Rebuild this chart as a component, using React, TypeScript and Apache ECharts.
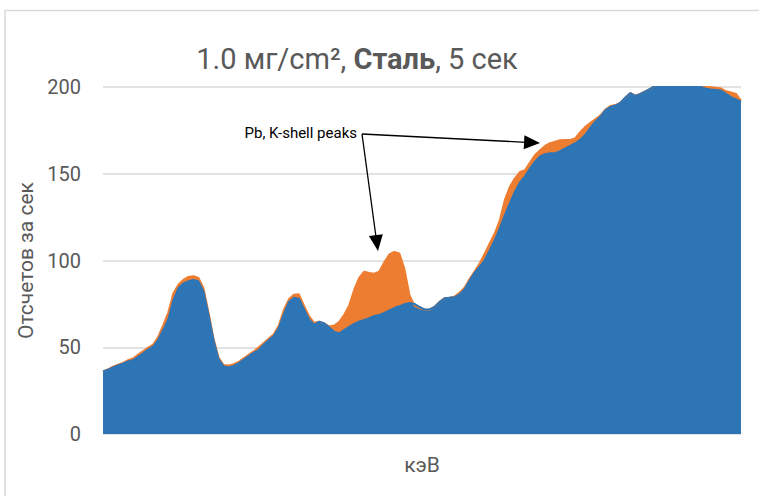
import React, { useEffect, useRef } from "react";
import * as echarts from "echarts";

// Spectrum samples (evenly spaced channels across the energy range), counts per second
const blueValues = [
  36, 37, 38.4, 39.5, 40.5, 41.8, 42.6, 44.5, 46.5, 48.6, 50.3, 54.2, 59.9, 66, 77, 84, 86.8, 88, 88.8, 88,
  82, 68.6, 54, 43, 39, 38.4, 39.2, 40.7, 42.8, 44.8, 46.8, 48.4, 51.5, 54, 56.5, 61, 69, 76, 78.5, 78,
  72, 66, 63, 64.7, 63.8, 61.5, 59, 58, 59.9, 61.8, 63.5, 64.8, 65.7, 66.7, 68, 68.6, 69.8, 71.2, 72.6, 73.6,
  74.8, 75.5, 75, 73.2, 71.8, 71.8, 73.2, 76, 78.2, 78.6, 78.8, 80.5, 83.5, 88.5, 93, 96.4, 100.3, 106, 111.8, 118.6,
  126.2, 133, 139.7, 145, 148.5, 153, 157, 160, 161.3, 161.8, 161.8, 163, 164.6, 166, 167.6, 169.5, 172.5, 176.5, 180, 182.8,
  186.5, 188.5, 189.3, 190.8, 194, 196.5, 194.8, 196, 197.5, 199, 201, 202, 202, 203, 202, 203, 203, 203, 202, 200,
  199, 198.6, 198.3, 198, 196, 194.2, 192.9, 191.5,
];

const orangeValues = [
  36, 37.3, 38.8, 40, 41, 42.5, 43.5, 45.8, 47.8, 49.8, 51.5, 56, 62.8, 70, 81, 86, 88.8, 90.5, 91, 90,
  84, 70, 55, 44, 39.8, 39.5, 40.2, 41.5, 43.6, 45.6, 47.6, 50, 52.5, 55, 57.5, 62.5, 71.5, 77.6, 80.2, 80.5,
  74, 68, 64, 64.7, 63.8, 62, 62.5, 64.5, 68.6, 74, 83, 90, 93.6, 92.8, 92.4, 93.5, 99, 103.5, 105, 104,
  95, 80, 74, 72.5, 71.8, 71.6, 73.2, 76.2, 78.2, 78.6, 79.2, 81.5, 84.5, 89.5, 93.8, 98.4, 104, 110, 115.7, 123.3,
  134.9, 142.5, 147.4, 151, 152, 156.5, 160.8, 163.5, 166, 167.6, 168.5, 169.3, 169.5, 169.5, 170.4, 174, 177, 179.3, 181.4, 183.5,
  187, 189, 189.6, 191, 194, 196.5, 195, 196.2, 197.6, 199, 201, 202, 202, 203, 205, 204, 203, 203, 202, 200.2,
  200, 199.8, 199.6, 199.2, 197.5, 196.8, 196, 192,
];

const channels = blueValues.map((_, i) => String(i + 1));
const yTicks = [0, 50, 100, 150, 200];

const titleText = "1.0 мг/cm², ";
const titleBold = "Сталь";
const titleTail = ", 5 сек";
const yName = "Отсчетов за сек";
const xName = "кэВ";
const noteText = "Pb, K-shell peaks";

const FONT = "Roboto, 'Noto Sans', sans-serif";

export default function App() {
  const ref = useRef<HTMLDivElement>(null);

  useEffect(() => {
    if (!ref.current) return;
    const chart = echarts.init(ref.current, undefined, { renderer: "svg" });
    chart.setOption({
      animation: false,
      backgroundColor: "#ffffff",
      title: {
        text: `{n|${titleText}}{b|${titleBold}}{n|${titleTail}}`,
        left: 352,
        textAlign: "center",
        top: 39,
        textStyle: {
          fontWeight: "normal",
          rich: {
            n: { fontFamily: FONT, fontSize: 29, color: "#595959", fontWeight: "normal" },
            b: { fontFamily: FONT, fontSize: 29, color: "#595959", fontWeight: "bold" },
          },
        },
      },
      grid: { left: 103, right: 18, top: 87, bottom: 62 },
      xAxis: {
        type: "category",
        data: channels,
        boundaryGap: false,
        axisLine: { show: false },
        axisTick: { show: false },
        axisLabel: { show: false },
        splitLine: { show: false },
        name: xName,
        nameLocation: "middle",
        nameGap: 20,
        nameTextStyle: { fontFamily: FONT, fontSize: 21, color: "#595959" },
      },
      yAxis: {
        type: "value",
        min: yTicks[0],
        max: yTicks[yTicks.length - 1],
        interval: 50,
        axisLine: { show: false },
        axisTick: { show: false },
        axisLabel: { fontFamily: FONT, fontSize: 20, color: "#595959", margin: 22 },
        splitLine: { lineStyle: { color: "#d9d9d9", width: 1.5 } },
        name: yName,
        nameLocation: "middle",
        nameRotate: 90,
        nameGap: 58,
        nameTextStyle: { fontFamily: FONT, fontSize: 21, color: "#595959" },
      },
      series: [
        {
          type: "line",
          data: orangeValues,
          showSymbol: false,
          clip: true,
          lineStyle: { color: "#ed7d31", width: 2 },
          itemStyle: { color: "#ed7d31" },
          areaStyle: { color: "#ed7d31", opacity: 1 },
        },
        {
          type: "line",
          data: blueValues,
          showSymbol: false,
          clip: true,
          lineStyle: { color: "#2e75b6", width: 2 },
          itemStyle: { color: "#2e75b6" },
          areaStyle: { color: "#2e75b6", opacity: 1 },
        },
      ],
      graphic: [
        {
          type: "rect",
          shape: { x: 5, y: 10.5, width: 800, height: 600 },
          style: { fill: "none", stroke: "#d9d9d9", lineWidth: 1.5 },
          silent: true,
          z: -10,
        },
        {
          type: "text",
          x: 357,
          y: 133,
          style: {
            text: noteText,
            fontFamily: FONT,
            fontSize: 15,
            fill: "#000000",
            align: "right",
            verticalAlign: "middle",
          },
          z: 100,
        },
        {
          type: "line",
          shape: { x1: 362, y1: 134, x2: 526, y2: 142.3 },
          style: { stroke: "#000000", lineWidth: 1.3 },
          z: 100,
        },
        {
          type: "polygon",
          shape: { points: [[540, 143], [523.7, 149.2], [524.4, 135.2]] },
          style: { fill: "#000000" },
          z: 100,
        },
        {
          type: "line",
          shape: { x1: 362, y1: 134, x2: 376, y2: 237 },
          style: { stroke: "#000000", lineWidth: 1.3 },
          z: 100,
        },
        {
          type: "polygon",
          shape: { points: [[378, 251], [368.9, 236.1], [382.8, 234.2]] },
          style: { fill: "#000000" },
          z: 100,
        },
      ],
    });
    return () => chart.dispose();
  }, []);

  return (
    <div
      ref={ref}
      style={{ position: "fixed", left: 0, top: 0, width: 759, height: 496 }}
    />
  );
}
